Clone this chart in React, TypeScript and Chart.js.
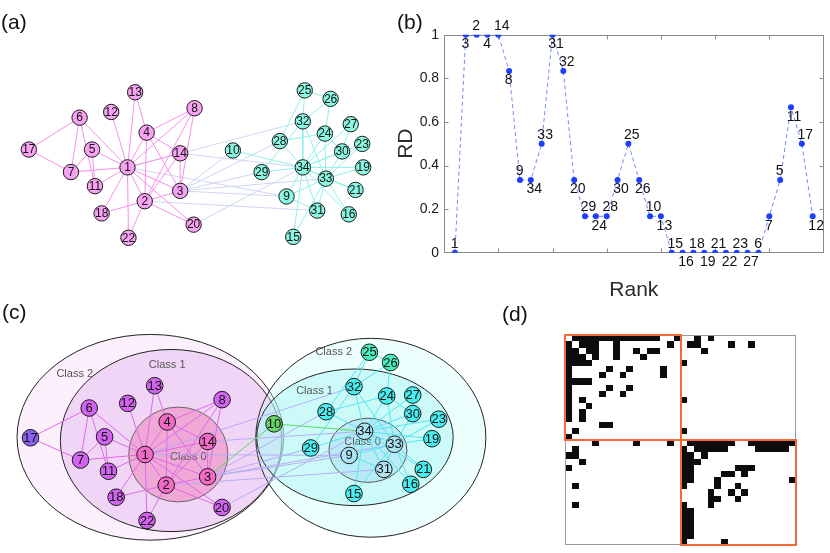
import React, { useEffect, useRef } from "react";
import { Chart, registerables } from "chart.js";

Chart.register(...registerables);

const FONT = "'Liberation Sans', Arial, Helvetica, sans-serif";
Chart.defaults.font.family = FONT;

// ---------- Zachary karate club network ----------
const nodeIds = Array.from({ length: 34 }, (_, i) => i + 1);
const edgeFrom = [1,1,1,1,1,1,1,1,1,1,1,1,1,1,1,1, 2,2,2,2,2,2,2,2, 3,3,3,3,3,3,3,3, 4,4,4, 5,5, 6,6,6, 7, 9,9,9, 10, 14, 15,15, 16,16, 19,19, 20, 21,21, 23,23, 24,24,24,24,24, 25,25,25, 26, 27,27, 28, 29,29, 30,30, 31,31, 32,32, 33];
const edgeTo = [2,3,4,5,6,7,8,9,11,12,13,14,18,20,22,32, 3,4,8,14,18,20,22,31, 4,8,9,10,14,28,29,33, 8,13,14, 7,11, 7,11,17, 17, 31,33,34, 34, 34, 33,34, 33,34, 33,34, 34, 33,34, 33,34, 26,28,30,33,34, 26,28,32, 32, 30,34, 34, 32,34, 33,34, 33,34, 33,34, 34];

// panel (a) layout (node 1..34)
const aNodeX = [124,142,179,144,87,74,65,194,290,234,90,107,132,179,297,355,21,97,370,193,362,125,369,330,309,336,357,283,264,348,322,307,331,307];
const aNodeY = [169,205,194,132,150,116,174,106,200,151,189,110,89,154,243,219,150,218,169,230,193,244,144,133,87,96,123,141,174,152,215,120,181,169];
const pinkGroup = [1,2,3,4,5,6,7,8,11,12,13,14,17,18,20,22];

// panel (c) layout (node 1..34)
const cNodeX = [141,163,206,164,99,83,74,221,353,275,103,123,151,206,358,417,22,111,439,221,430,143,446,392,374,396,419,329,313,419,389,358,400,369];
const cNodeY = [457,490,481,422,438,407,463,398,458,424,475,402,383,443,499,489,439,503,440,514,473,528,419,394,347,358,393,411,450,413,473,384,446,432];
const leftCore = [1,2,3,4,14];
const leftMid = [5,6,7,8,11,12,13,18,20,22];
const leftOuter = [17];
const bridgeNodes = [10];
const rightCore = [9,31,33,34];
const rightMid = [15,16,19,21,23,24,27,28,29,30,32];
const rightOuter = [25,26];
const classNames = ["Class 2","Class 1","Class 0","Class 2","Class 1","Class 0"];
const classCx = [146.5,168,175.5,375.5,359,372.5];
const classCy = [438.5,442,457,439,438.5,452.5];
const classRx = [138.5,115,51.5,119.5,102,40.5];
const classRy = [110.7,98,51,107,73.5,34.5];
const classLabelX = [68,164,186,337,317,367];
const classLabelY = [370,361,460,347,389,444];

// panel (b) data
const rankNodes = [1,3,2,4,14,8,9,34,33,31,32,20,29,24,28,30,25,26,10,13,15,16,18,19,21,22,23,27,6,7,5,11,17,12];
const rdValues = [0,1,1,1,1,0.833,0.333,0.333,0.5,1,0.833,0.333,0.167,0.167,0.167,0.333,0.5,0.333,0.167,0.167,0,0,0,0,0,0,0,0,0,0.167,0.333,0.667,0.5,0.167];

// panel (d) data
const matrixOrder = [1,3,2,4,14,6,7,8,5,11,20,13,18,22,17,10,12, 34,33,9,31,32,24,30,28,25,26,29,15,16,19,21,23,27];
const blockSizes = [17, 17];

// ---------- helpers ----------
function ChartCanvas(props: { left: number; top: number; width: number; height: number; make: () => any }) {
  const ref = useRef<HTMLCanvasElement>(null);
  useEffect(() => {
    const chart = new Chart(ref.current as HTMLCanvasElement, props.make());
    return () => chart.destroy();
  }, []);
  return (
    <canvas
      ref={ref}
      width={props.width}
      height={props.height}
      style={{ position: "absolute", left: props.left, top: props.top, width: props.width, height: props.height }}
    />
  );
}

function nodeLabelPlugin(size: number) {
  return {
    id: "nodeLabels",
    afterDatasetsDraw(chart: any) {
      const ctx = chart.ctx;
      chart.data.datasets.forEach((ds: any, di: number) => {
        if (!ds.nodeLabels) return;
        const meta = chart.getDatasetMeta(di);
        ctx.save();
        ctx.font = `${size}px ${FONT}`;
        ctx.fillStyle = "#111";
        ctx.textAlign = "center";
        ctx.textBaseline = "middle";
        meta.data.forEach((pt: any, i: number) => ctx.fillText(ds.nodeLabels[i], pt.x, pt.y + 0.5));
        ctx.restore();
      });
    },
  };
}

type EdgeStyle = { color: string; match: (a: number, b: number) => boolean; order: number };

function networkConfig(
  x0: number, y0: number, w: number, h: number,
  xs: number[], ys: number[],
  nodeFill: (n: number) => string,
  edgeStyles: EdgeStyle[],
  radius: number, fontSize: number,
  extraPlugins: any[]
) {
  const edgeDatasets = edgeStyles.map((st) => {
    const data: any[] = [];
    edgeFrom.forEach((a, i) => {
      const b = edgeTo[i];
      if (st.match(a, b)) {
        data.push({ x: xs[a - 1], y: ys[a - 1] }, { x: xs[b - 1], y: ys[b - 1] }, { x: null, y: null });
      }
    });
    return {
      type: "scatter",
      data,
      showLine: true,
      spanGaps: false,
      borderColor: st.color,
      borderWidth: 1,
      pointRadius: 0,
      pointHoverRadius: 0,
      order: st.order,
    };
  });
  const nodeDataset = {
    type: "scatter",
    data: nodeIds.map((n) => ({ x: xs[n - 1], y: ys[n - 1] })),
    pointRadius: radius,
    pointHoverRadius: radius,
    pointBackgroundColor: nodeIds.map(nodeFill),
    pointBorderColor: "#1a1a1a",
    pointBorderWidth: 1,
    showLine: false,
    order: 0,
    nodeLabels: nodeIds.map(String),
  };
  return {
    type: "scatter",
    data: { datasets: [nodeDataset, ...edgeDatasets] },
    options: {
      responsive: false,
      animation: false,
      devicePixelRatio: 1,
      events: [],
      layout: { padding: 0 },
      plugins: { legend: { display: false }, tooltip: { enabled: false } },
      scales: {
        x: { type: "linear", display: false, min: x0, max: x0 + w },
        y: { type: "linear", display: false, min: y0, max: y0 + h, reverse: true },
      },
    },
    plugins: [...extraPlugins, nodeLabelPlugin(fontSize)],
  };
}

// ---------- panel (a) ----------
function makeA() {
  const isPink = (n: number) => pinkGroup.includes(n);
  return networkConfig(
    0, 0, 415, 285, aNodeX, aNodeY,
    (n) => (isPink(n) ? "#f7a2f2" : "#8af7e2"),
    [
      { color: "#cfd6f4", match: (a, b) => isPink(a) !== isPink(b), order: 3 },
      { color: "#f78fe9", match: (a, b) => isPink(a) && isPink(b), order: 2 },
      { color: "#8ef2ea", match: (a, b) => !isPink(a) && !isPink(b), order: 1 },
    ],
    7.7, 12, []
  );
}

// ---------- panel (c) ----------
function makeC() {
  const leftAll = [...leftCore, ...leftMid, ...leftOuter];
  const fill = (n: number) => {
    if (leftCore.includes(n)) return "#f06ac6";
    if (leftMid.includes(n)) return "#d262f0";
    if (leftOuter.includes(n)) return "#8a60f0";
    if (bridgeNodes.includes(n)) return "#66d466";
    if (rightCore.includes(n)) return "#ade3f3";
    if (rightOuter.includes(n)) return "#46f0bc";
    return "#46eef0";
  };
  const isLeft = (n: number) => leftAll.includes(n);
  const isBridge = (n: number) => bridgeNodes.includes(n);
  const fills = ["#fcf0fc", "#f1d5f7", "#f0a8d6", "rgba(200,255,248,0.32)", "rgba(165,245,245,0.45)", "rgba(150,205,240,0.35)"];
  const strokes = ["#222", "#222", "#666", "#222", "#222", "#555"];
  const ellipsePlugin = {
    id: "classEllipses",
    beforeDatasetsDraw(chart: any) {
      const { ctx, scales } = chart;
      const xs = scales.x, ys = scales.y;
      ctx.save();
      for (let i = 0; i < classCx.length; i++) {
        const cx = xs.getPixelForValue(classCx[i]);
        const cy = ys.getPixelForValue(classCy[i]);
        const rx = Math.abs(xs.getPixelForValue(classCx[i] + classRx[i]) - cx);
        const ry = Math.abs(ys.getPixelForValue(classCy[i] + classRy[i]) - cy);
        ctx.beginPath();
        ctx.ellipse(cx, cy, rx, ry, 0, 0, Math.PI * 2);
        ctx.fillStyle = fills[i];
        ctx.fill();
        ctx.lineWidth = 1;
        ctx.strokeStyle = strokes[i];
        ctx.stroke();
      }
      ctx.font = `11px ${FONT}`;
      ctx.fillStyle = "#555";
      ctx.textAlign = "center";
      ctx.textBaseline = "middle";
      classNames.forEach((t, i) => ctx.fillText(t, xs.getPixelForValue(classLabelX[i]), ys.getPixelForValue(classLabelY[i])));
      ctx.restore();
    },
  };
  return networkConfig(
    0, 290, 500, 263, cNodeX, cNodeY, fill,
    [
      { color: "#b4aef4", match: (a, b) => !isBridge(a) && !isBridge(b) && isLeft(a) !== isLeft(b), order: 4 },
      { color: "#e06ae8", match: (a, b) => isLeft(a) && isLeft(b), order: 3 },
      { color: "#52e6f2", match: (a, b) => !isLeft(a) && !isLeft(b) && !isBridge(a) && !isBridge(b), order: 2 },
      { color: "#5ed85e", match: (a, b) => isBridge(a) || isBridge(b), order: 1 },
    ],
    8.3, 13, [ellipsePlugin]
  );
}

// ---------- panel (b) ----------
function makeB() {
  const framePlugin = {
    id: "rdFrame",
    beforeDatasetsDraw(chart: any) {
      const { ctx, chartArea: a, scales } = chart;
      const x = scales.x, y = scales.y;
      const L = Math.round(a.left) + 0.5, R = Math.round(a.right) - 0.5;
      const T = Math.round(a.top) + 0.5, B = Math.round(a.bottom) - 0.5;
      ctx.save();
      ctx.strokeStyle = "#8a8a8a";
      ctx.lineWidth = 1;
      ctx.strokeRect(L, T, R - L, B - T);
      ctx.beginPath();
      x.ticks.forEach((t: any) => {
        if (t.value <= x.min || t.value >= x.max) return;
        const px = Math.round(x.getPixelForValue(t.value)) + 0.5;
        ctx.moveTo(px, B); ctx.lineTo(px, B - 4);
        ctx.moveTo(px, T); ctx.lineTo(px, T + 4);
      });
      y.ticks.forEach((t: any) => {
        if (t.value <= y.min || t.value >= y.max) return;
        const py = Math.round(y.getPixelForValue(t.value)) + 0.5;
        ctx.moveTo(L, py); ctx.lineTo(L + 4, py);
        ctx.moveTo(R, py); ctx.lineTo(R - 4, py);
      });
      ctx.stroke();
      ctx.restore();
    },
  };
  const labelPlugin = {
    id: "rdLabels",
    afterDatasetsDraw(chart: any) {
      const ctx = chart.ctx;
      const meta = chart.getDatasetMeta(0);
      ctx.save();
      ctx.font = `14px ${FONT}`;
      ctx.fillStyle = "#111";
      ctx.textAlign = "left";
      ctx.textBaseline = "middle";
      meta.data.forEach((pt: any, i: number) => {
        const above = i % 2 === 0;
        ctx.fillText(String(rankNodes[i]), pt.x - 4.3, pt.y + (above ? -9 : 9.5));
      });
      ctx.restore();
    },
  };
  return {
    type: "line",
    data: {
      datasets: [
        {
          data: rankNodes.map((_, i) => ({ x: i + 1, y: rdValues[i] })),
          borderColor: "#6f8cff",
          borderWidth: 1,
          borderDash: [4, 3],
          tension: 0,
          pointRadius: 3,
          pointHoverRadius: 3,
          pointBackgroundColor: "#1d3dff",
          pointBorderWidth: 0,
          fill: false,
        },
      ],
    },
    options: {
      responsive: false,
      animation: false,
      devicePixelRatio: 1,
      events: [],
      layout: { padding: { top: 34.7, right: 6.5, bottom: 3, left: 0 } },
      plugins: { legend: { display: false }, tooltip: { enabled: false } },
      scales: {
        x: {
          type: "linear",
          min: 0,
          max: 35,
          ticks: { display: false, stepSize: 5 },
          grid: { display: false, drawTicks: false },
          border: { display: false },
          title: { display: true, text: "Rank", color: "#2a2a2a", font: { size: 21 }, padding: { top: 0, bottom: 4 } },
          afterFit: (s: any) => { s.height = 54.3; },
        },
        y: {
          type: "linear",
          min: 0,
          max: 1,
          ticks: {
            stepSize: 0.2,
            color: "#1a1a1a",
            font: { size: 14 },
            padding: 5,
            callback: (v: any) => String(Number(Number(v).toFixed(2))),
          },
          grid: { display: false, drawTicks: false },
          border: { display: false },
          title: { display: true, text: "RD", color: "#2a2a2a", font: { size: 21 }, padding: { top: 14, bottom: 0 } },
          afterFit: (s: any) => { s.width = 64.1; },
        },
      },
    },
    plugins: [framePlugin, labelPlugin],
  };
}

// ---------- panel (d) ----------
function makeD() {
  const pos: Record<number, number> = {};
  matrixOrder.forEach((n, i) => (pos[n] = i));
  const cells: { x: number; y: number }[] = [];
  edgeFrom.forEach((a, i) => {
    const b = edgeTo[i];
    cells.push({ x: pos[b], y: pos[a] }, { x: pos[a], y: pos[b] });
  });
  const n = matrixOrder.length;
  const cellPlugin = {
    id: "matrixCells",
    afterDatasetsDraw(chart: any) {
      const { ctx, scales } = chart;
      const xs = scales.x, ys = scales.y;
      const meta = chart.getDatasetMeta(0);
      const raw = chart.data.datasets[0].data;
      ctx.save();
      ctx.fillStyle = "#0b0c0b";
      meta.data.forEach((_: any, i: number) => {
        const c = raw[i];
        const x0 = Math.round(xs.getPixelForValue(c.x - 0.5)), x1 = Math.round(xs.getPixelForValue(c.x + 0.5));
        const y0 = Math.round(ys.getPixelForValue(c.y - 0.5)), y1 = Math.round(ys.getPixelForValue(c.y + 0.5));
        ctx.fillRect(Math.min(x0, x1), Math.min(y0, y1), Math.abs(x1 - x0), Math.abs(y1 - y0));
      });
      // outer grey frame
      const L = Math.round(xs.getPixelForValue(-0.5)) + 0.5, R = Math.round(xs.getPixelForValue(n - 0.5)) - 0.5;
      const T = Math.round(ys.getPixelForValue(-0.5)) + 0.5, B = Math.round(ys.getPixelForValue(n - 0.5)) - 0.5;
      ctx.strokeStyle = "#9a9a9a";
      ctx.lineWidth = 1;
      ctx.strokeRect(L, T, R - L, B - T);
      // orange community blocks
      ctx.strokeStyle = "#f26a36";
      ctx.lineWidth = 2;
      let start = 0;
      blockSizes.forEach((sz) => {
        const bx0 = Math.round(xs.getPixelForValue(start - 0.5)), bx1 = Math.round(xs.getPixelForValue(start + sz - 0.5));
        const by0 = Math.round(ys.getPixelForValue(start - 0.5)), by1 = Math.round(ys.getPixelForValue(start + sz - 0.5));
        ctx.strokeRect(bx0, by0, bx1 - bx0, by1 - by0);
        start += sz;
      });
      ctx.restore();
    },
  };
  return {
    type: "scatter",
    data: { datasets: [{ data: cells, pointRadius: 0, pointHoverRadius: 0 }] },
    options: {
      responsive: false,
      animation: false,
      devicePixelRatio: 1,
      events: [],
      layout: { padding: { left: 10.3, top: 10.3, right: 9.3, bottom: 8 } },
      plugins: { legend: { display: false }, tooltip: { enabled: false } },
      scales: {
        x: { type: "linear", display: false, min: -0.5, max: n - 0.5 },
        y: { type: "linear", display: false, min: -0.5, max: n - 0.5, reverse: true },
      },
    },
    plugins: [cellPlugin],
  };
}

function PanelLabel(props: { text: string; left: number; top: number }) {
  return (
    <div
      style={{
        position: "absolute",
        left: props.left,
        top: props.top,
        fontFamily: FONT,
        fontSize: 21,
        lineHeight: "21px",
        color: "#111",
        whiteSpace: "nowrap",
      }}
    >
      {props.text}
    </div>
  );
}

export default function App() {
  return (
    <div style={{ position: "fixed", left: 0, top: 0, width: 830, height: 553, background: "#fff", overflow: "hidden" }}>
      <ChartCanvas left={0} top={0} width={415} height={285} make={makeA} />
      <ChartCanvas left={0} top={290} width={500} height={263} make={makeC} />
      <ChartCanvas left={380} top={0} width={450} height={310} make={makeB} />
      <ChartCanvas left={555} top={325} width={250} height={228} make={makeD} />
      <PanelLabel text="(a)" left={1} top={11} />
      <PanelLabel text="(b)" left={397} top={11} />
      <PanelLabel text="(c)" left={2} top={301} />
      <PanelLabel text="(d)" left={502} top={303} />
    </div>
  );
}
